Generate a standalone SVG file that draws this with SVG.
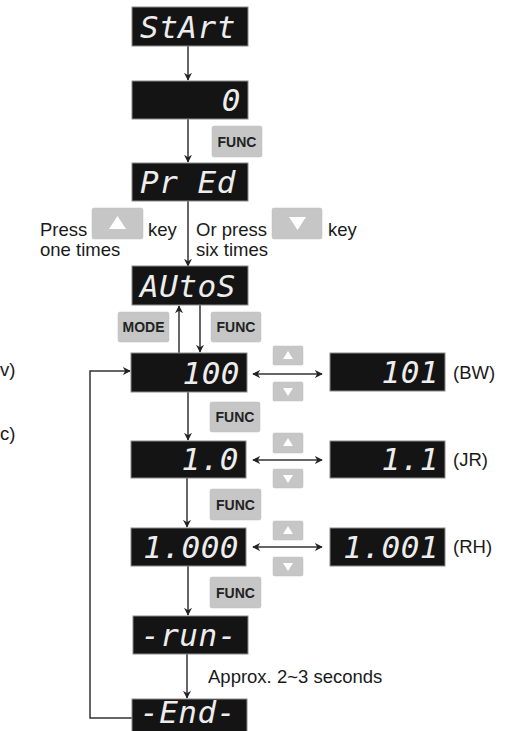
<svg xmlns="http://www.w3.org/2000/svg" width="519" height="731" viewBox="0 0 519 731">
<defs>
<style>
.disp{fill:#141414;stroke:#8a8a8a;stroke-width:1}
.seg{font-family:"DejaVu Sans Mono",monospace;font-style:oblique;font-size:31px;fill:#ededed;letter-spacing:0.5px}
.key{fill:#c6c6c6;stroke:#bdbdbd;stroke-width:0.5}
.kt{font-family:"Liberation Sans",Arial,sans-serif;font-weight:bold;font-size:14px;fill:#222;text-anchor:middle}
.tri{fill:#ffffff}
.lbl{font-family:"Liberation Sans",Arial,sans-serif;font-size:18.5px;fill:#1a1a1a}
.ln{stroke:#333;stroke-width:1.5;fill:none}
</style>
<marker id="ah" viewBox="0 0 10 10" refX="9" refY="5" markerWidth="8" markerHeight="8" orient="auto-start-reverse" markerUnits="userSpaceOnUse">
<path d="M0,0 L10,5 L0,10 L3,5 z" fill="#222"/>
</marker>
</defs>
<rect width="519" height="731" fill="#ffffff"/>

<g id="connectors">
<line class="ln" x1="188" y1="46" x2="188" y2="80" marker-end="url(#ah)"/>
<line class="ln" x1="188" y1="119" x2="188" y2="162" marker-end="url(#ah)"/>
<line class="ln" x1="188" y1="201" x2="188" y2="266" marker-end="url(#ah)"/>
<line class="ln" x1="179" y1="353" x2="179" y2="306" marker-end="url(#ah)"/>
<line class="ln" x1="200" y1="305" x2="200" y2="352" marker-end="url(#ah)"/>
<line class="ln" x1="188" y1="392" x2="188" y2="440" marker-end="url(#ah)"/>
<line class="ln" x1="187" y1="478" x2="187" y2="527" marker-end="url(#ah)"/>
<line class="ln" x1="188" y1="566" x2="188" y2="615" marker-end="url(#ah)"/>
<line class="ln" x1="187" y1="654" x2="187" y2="698" marker-end="url(#ah)"/>
<polyline class="ln" points="132,718 90,718 90,371 130,371" marker-end="url(#ah)"/>
<line class="ln" x1="253" y1="374" x2="322" y2="374" marker-start="url(#ah)" marker-end="url(#ah)"/>
<line class="ln" x1="253" y1="460" x2="322" y2="460" marker-start="url(#ah)" marker-end="url(#ah)"/>
<line class="ln" x1="253" y1="547" x2="322" y2="547" marker-start="url(#ah)" marker-end="url(#ah)"/>
</g>

<g id="start"><rect class="disp" x="132" y="7" width="116" height="39"/><text class="seg" x="140" y="38">StArt</text></g>
<g id="zero"><rect class="disp" x="132" y="81" width="116" height="38"/><text class="seg" x="241" y="111" text-anchor="end">0</text></g>
<g id="func1"><rect class="key" x="212" y="126" width="50" height="31" rx="2"/><text class="kt" x="237" y="147">FUNC</text></g>
<g id="pred"><rect class="disp" x="132" y="163" width="116" height="38"/><text class="seg" x="140" y="193">Pr Ed</text></g>

<g id="note-up">
<text class="lbl" x="40" y="236">Press</text>
<rect class="key" x="92" y="208" width="51" height="31" rx="2"/>
<polygon class="tri" points="117.5,216 126,229 109,229"/>
<text class="lbl" x="148" y="236">key</text>
<text class="lbl" x="40" y="256">one times</text>
</g>
<g id="note-down">
<text class="lbl" x="196" y="236">Or press</text>
<rect class="key" x="272" y="208" width="50" height="31" rx="2"/>
<polygon class="tri" points="289,217 306,217 297.5,230"/>
<text class="lbl" x="328" y="236">key</text>
<text class="lbl" x="196" y="256">six times</text>
</g>

<g id="autos"><rect class="disp" x="132" y="266" width="116" height="39"/><text class="seg" x="140" y="297">AUtoS</text></g>
<g id="mode"><rect class="key" x="118" y="312" width="51" height="30" rx="2"/><text class="kt" x="143.5" y="332">MODE</text></g>
<g id="func2"><rect class="key" x="211" y="312" width="50" height="30" rx="2"/><text class="kt" x="236" y="332">FUNC</text></g>

<g id="p100"><rect class="disp" x="131" y="353" width="116" height="39"/><text class="seg" x="240" y="384" text-anchor="end">100</text></g>
<g id="keys1">
<rect class="key" x="273" y="346" width="30" height="19" rx="1.5"/><polygon class="tri" points="288,351 293,359 283,359"/>
<rect class="key" x="273" y="382" width="30" height="19" rx="1.5"/><polygon class="tri" points="283,388 293,388 288,396"/>
</g>
<g id="p101"><rect class="disp" x="330" y="353" width="115" height="38"/><text class="seg" x="439" y="383" text-anchor="end">101</text></g>
<text id="bw" class="lbl" x="453" y="379">(BW)</text>

<g id="func3"><rect class="key" x="210" y="402" width="50" height="30" rx="2"/><text class="kt" x="235" y="422">FUNC</text></g>

<g id="p10"><rect class="disp" x="131" y="441" width="115" height="37"/><text class="seg" x="239" y="470" text-anchor="end">1.0</text></g>
<g id="keys2">
<rect class="key" x="273" y="433" width="30" height="20" rx="1.5"/><polygon class="tri" points="288,438 293,446 283,446"/>
<rect class="key" x="273" y="469" width="30" height="19" rx="1.5"/><polygon class="tri" points="283,475 293,475 288,483"/>
</g>
<g id="p11"><rect class="disp" x="330" y="441" width="115" height="37"/><text class="seg" x="439" y="470" text-anchor="end">1.1</text></g>
<text id="jr" class="lbl" x="453" y="466">(JR)</text>

<g id="func4"><rect class="key" x="210" y="489" width="51" height="31" rx="2"/><text class="kt" x="235.5" y="510">FUNC</text></g>

<g id="p1000"><rect class="disp" x="131" y="528" width="115" height="38"/><text class="seg" x="239" y="558" text-anchor="end">1.000</text></g>
<g id="keys3">
<rect class="key" x="273" y="521" width="30" height="19" rx="1.5"/><polygon class="tri" points="288,526 293,534 283,534"/>
<rect class="key" x="273" y="557" width="30" height="19" rx="1.5"/><polygon class="tri" points="283,563 293,563 288,571"/>
</g>
<g id="p1001"><rect class="disp" x="330" y="528" width="115" height="38"/><text class="seg" x="439" y="558" text-anchor="end">1.001</text></g>
<text id="rh" class="lbl" x="453" y="553">(RH)</text>

<g id="func5"><rect class="key" x="210" y="577" width="51" height="31" rx="2"/><text class="kt" x="235.5" y="598">FUNC</text></g>

<g id="run"><rect class="disp" x="133" y="616" width="115" height="38"/><text class="seg" x="141" y="646">-run-</text></g>
<text id="approx" class="lbl" x="208" y="683">Approx. 2~3 seconds</text>
<g id="end"><rect class="disp" x="132" y="699" width="115" height="39"/><text class="seg" x="140" y="723">-End-</text></g>

<text id="edge1" class="lbl" x="0" y="376">v)</text>
<text id="edge2" class="lbl" x="0" y="440">c)</text>
</svg>
